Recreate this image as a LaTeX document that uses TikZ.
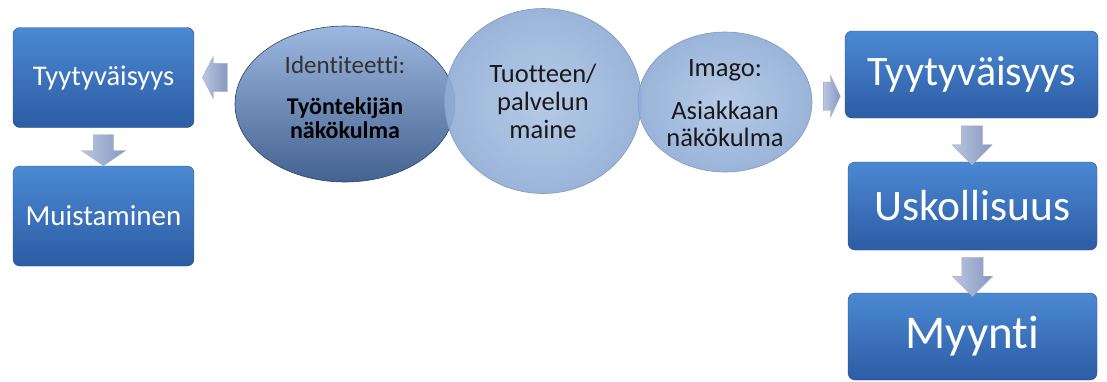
\documentclass[tikz,border=0pt]{standalone}
\usepackage{fontspec}
\setmainfont{Carlito}[Ligatures={NoCommon}]
\usetikzlibrary{calc,positioning,shapes.geometric,shapes.arrows}

\definecolor{boxtop}{HTML}{4B89D3}
\definecolor{boxbot}{HTML}{2C5CA4}
\definecolor{idetop}{HTML}{92B0DC}
\definecolor{idemid}{HTML}{5781BD}
\definecolor{idebot}{HTML}{2F5185}
\definecolor{ideline}{HTML}{2A4468}
\definecolor{lightin}{HTML}{AEC5E4}
\definecolor{lightout}{HTML}{8FACD5}
\definecolor{lightline}{HTML}{7C9AC5}
\definecolor{arrtop}{HTML}{BAC7E2}
\definecolor{arrbot}{HTML}{8797BE}

\begin{document}
\begin{tikzpicture}[x=1pt, y=-1pt,
    box/.style={rectangle, rounded corners=7pt, top color=boxtop, bottom color=boxbot,
        draw=boxbot!85!black, line width=0.4pt, text=white, inner sep=0pt},
    smallbox/.style={box, minimum width=181pt, minimum height=100pt,
        font=\fontsize{28.5}{32}\selectfont},
    bigbox/.style={box, minimum width=250pt, minimum height=87pt,
        font=\fontsize{42}{48}\selectfont},
    blob/.style={ellipse, inner sep=0pt, fill opacity=0.9, line width=0.6pt},
    blobtext/.style={align=center, inner sep=0pt, text=black!90},
    blockarrow/.style={single arrow, inner xsep=0pt, left color=arrtop, right color=arrbot,
        draw=arrbot!80, line width=0.3pt}
]
    \useasboundingbox (0,0) rectangle (1107,381);

    % left column
    \node[smallbox] (tyy1) at (103.5, 77.5) {Tyytyväisyys};
    \node[smallbox] (muis) at (103.5, 216) {\fontsize{29}{32}\selectfont Muistaminen};

    % middle ellipses
    \node[blob, minimum width=220pt, minimum height=156pt, top color=idetop, middle color=idemid,
        bottom color=idebot, draw=ideline] (ide) at (345, 104) {};
    \node[blob, minimum width=197pt, minimum height=185pt, inner color=lightin, outer color=lightout,
        draw=lightline] (maine) at (543, 101) {};
    \node[blob, minimum width=174pt, minimum height=140pt, inner color=lightin, outer color=lightout,
        draw=lightline] (imago) at (725, 102) {};

    \node[blobtext, text=black, font=\fontsize{24}{24}\selectfont\bfseries] (idetxt) at ($(ide)+(0,-7)$)
        {\mdseries\fontsize{25}{24}\selectfont\color{black!80}Identiteetti:\\[17pt]
         Työntekijän\\ näkökulma};
    \node[blobtext, font=\fontsize{26.5}{28}\selectfont] (mainetxt) at (maine)
        {Tuotteen/\\ palvelun\\ maine};
    \node[blobtext, font=\fontsize{26.5}{27}\selectfont] (imagotxt) at ($(imago)+(0,1)$)
        {Imago:\\[16pt] Asiakkaan\\ näkökulma};

    % right column
    \node[bigbox, minimum width=253pt] (tyy2) at (971.5, 74.5) {Tyytyväisyys};
    \node[bigbox, minimum width=249pt, minimum height=88pt] (usko) at (972.5, 206)
        {\fontsize{43.5}{48}\selectfont Uskollisuus};
    \node[bigbox, minimum width=249pt] (myy) at (972.5, 336.5)
        {\fontsize{47}{50}\selectfont Myynti};

    % block arrows
    \node[blockarrow, rotate=180, minimum height=25pt, minimum width=42pt, inner ysep=14pt,
        single arrow head extend=7pt, single arrow tip angle=125]
        (a1) at ($(tyy1.east)!0.6!(ide.west |- tyy1.east)$) {};
    \node[blockarrow, rotate=-90, minimum height=31pt, minimum width=44pt, inner ysep=10pt,
        single arrow head extend=12pt, single arrow tip angle=111]
        (a2) at ($(tyy1.south)!0.5!(muis.north)$) {};
    \node[blockarrow, minimum height=17pt, minimum width=42pt, inner ysep=14pt,
        single arrow head extend=7pt, single arrow tip angle=130, yshift=-8pt]
        (a3) at ($(imago.east)!0.5!(tyy2.west)$) {};
    \node[blockarrow, rotate=-90, minimum height=39pt, minimum width=40pt, inner ysep=10.5pt,
        single arrow head extend=9.5pt] (a4) at ($(tyy2.south)!0.5!(usko.north)$) {};
    \node[blockarrow, rotate=-90, minimum height=39pt, minimum width=40pt, inner ysep=10.5pt,
        single arrow head extend=9.5pt] (a5) at ($(usko.south)!0.5!(myy.north)$) {};
\end{tikzpicture}
\end{document}
